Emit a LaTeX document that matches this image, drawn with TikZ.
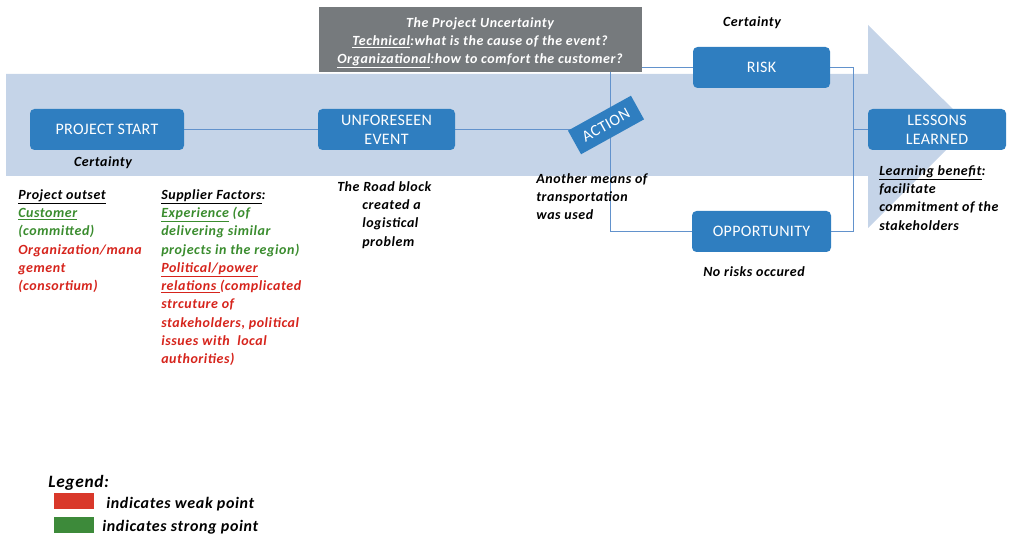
\documentclass[tikz,border=0pt]{standalone}
\usepackage{fontspec}
\setmainfont{Carlito}
\newfontfamily\widefont{Carlito}[LetterSpace=4]
\newfontfamily\boxfont{Carlito}[LetterSpace=2]
\usetikzlibrary{calc}
\pgfdeclarelayer{band}
\pgfdeclarelayer{links}
\pgfsetlayers{band,links,main}

\definecolor{bandblue}{RGB}{197,212,232}
\definecolor{boxblue}{RGB}{47,126,192}
\definecolor{linkblue}{RGB}{98,146,204}
\definecolor{panelgray}{RGB}{118,122,125}
\definecolor{goodgreen}{RGB}{58,140,46}
\definecolor{weakred}{RGB}{214,36,28}
\definecolor{swred}{RGB}{217,56,42}
\definecolor{swgreen}{RGB}{61,138,58}

\newdimen\upx \upx=0.75pt
\newcommand\strongpt[1]{\textcolor{goodgreen}{#1}}
\newcommand\weakpt[1]{\textcolor{weakred}{#1}}

\tikzset{
  stage/.style={rectangle, rounded corners=4.5\upx, fill=boxblue, text=white,
    font=\boxfont\fontsize{12}{14}\selectfont, align=center, inner sep=0,
    minimum height=41\upx},
  link/.style={draw=linkblue, line width=1\upx},
  note/.style={inner sep=0, anchor=north west, align=left,
    font=\widefont\fontsize{10.5}{13.7}\selectfont\bfseries\itshape},
  tag/.style={inner sep=0, anchor=base,
    font=\widefont\fontsize{10.5}{13.7}\selectfont\bfseries\itshape},
  swatch/.style={rectangle, inner sep=0, minimum width=40\upx, minimum height=16\upx},
  legendtext/.style={inner sep=0, anchor=base west,
    font=\widefont\fontsize{12}{14}\selectfont\bfseries\itshape}
}

\begin{document}
\begin{tikzpicture}[x=0.75pt,y=-0.75pt]
\useasboundingbox (0,0) rectangle (1009,534);

% wide arrow carrying the process
\begin{pgfonlayer}{band}
\fill[bandblue] (6,74) -- (868,74) -- (868,25) -- (970,126) -- (868,228)
  -- (868,176) -- (6,176) -- cycle;
\end{pgfonlayer}

% process stages
\node[stage, minimum width=154\upx] (start) at (107,129.5) {PROJECT START};
\node[stage, minimum width=137\upx] (event) at (386.5,129.5) {UNFORESEEN\\EVENT};
\node[stage, minimum width=137\upx] (risk) at (761.5,67.5) {RISK};
\node[stage, minimum width=139\upx] (opp) at (761.5,231.5) {OPPORTUNITY};
\node[stage, minimum width=138\upx] (lessons) at (937,129.5) {LESSONS\\LEARNED};
\node[stage, rounded corners=0, minimum width=72\upx, minimum height=27\upx,
  rotate=29] (action) at (606,125) {ACTION};

% uncertainty panel
\node[rectangle, fill=panelgray, inner sep=0,
  minimum width=323\upx, minimum height=65\upx] (panel) at (480,40) {};
\node[text=white, inner sep=0, align=center,
  font=\widefont\fontsize{10.5}{13.5}\selectfont\bfseries\itshape]
  (paneltext) at (480,43)
  {The Project Uncertainty\\
   \underline{Technical}:what is the cause of the event?\\
   \underline{Organizational}:how to comfort the customer?};

% junction points of the branch lines
\coordinate (jt) at (610,67.5);
\coordinate (jb) at (610,231.5);
\coordinate (mt) at (853,67.5);
\coordinate (mm) at (853,129.5);
\coordinate (mb) at (853,231.5);

\begin{pgfonlayer}{links}
\draw[link] (start.east) -- (event.west);
\draw[link] (event.east) -- (event.east -| action.center);
\draw[link] (risk.west) -- (jt) -- (jb) -- (opp.west);
\draw[link] (risk.east) -- (mt) -- (mb) -- (opp.east);
\draw[link] (mm) -- (lessons.west);
\end{pgfonlayer}

% annotations
\node[tag] (cert1) at (103,167) {Certainty};
\node[tag] (cert2) at (752,27) {Certainty};
\node[tag] (norisk) at (754,277) {No risks occured};

\node[note] (outset) at (18,186.2) {\strut\underline{Project outset}\\
  \strongpt{\underline{Customer}}\\
  \strongpt{(committed)}\\
  \weakpt{Organization/mana}\\
  \weakpt{gement}\\
  \weakpt{(consortium)}};

\node[note] (supplier) at (161,186.2) {\strut\underline{Supplier Factors}:\\
  \strongpt{\underline{Experience} (of}\\
  \strongpt{delivering similar}\\
  \strongpt{projects in the region)}\\
  \weakpt{\underline{Political/power}}\\
  \weakpt{\underline{relations\ }(complicated}\\
  \weakpt{strcuture of}\\
  \weakpt{stakeholders, political}\\
  \weakpt{issues with\ \ local}\\
  \weakpt{authorities)}};

\node[note] (road) at (337,178.2) {\strut The Road block\\
  \hspace*{25\upx}created a\\
  \hspace*{25\upx}logistical\\
  \hspace*{25\upx}problem};

\node[note] (means) at (536,170.2) {\strut Another means of\\
  transportation\\
  was used};

\node[note] (benefit) at (879,162.2) {\strut\underline{Learning benefit}:\\
  facilitate\\
  commitment of the\\
  stakeholders};

% legend
\node[inner sep=0, anchor=base west,
  font=\widefont\fontsize{13}{15}\selectfont\bfseries\itshape]
  (legend) at (48,487) {Legend:};
\node[swatch, fill=swred] (weak) at (74,501) {};
\node[swatch, fill=swgreen] (strong) at (74,525) {};
\node[legendtext] (weaktxt) at (106,508) {indicates weak point};
\node[legendtext] (strongtxt) at (102,531) {indicates strong point};
\end{tikzpicture}
\end{document}
